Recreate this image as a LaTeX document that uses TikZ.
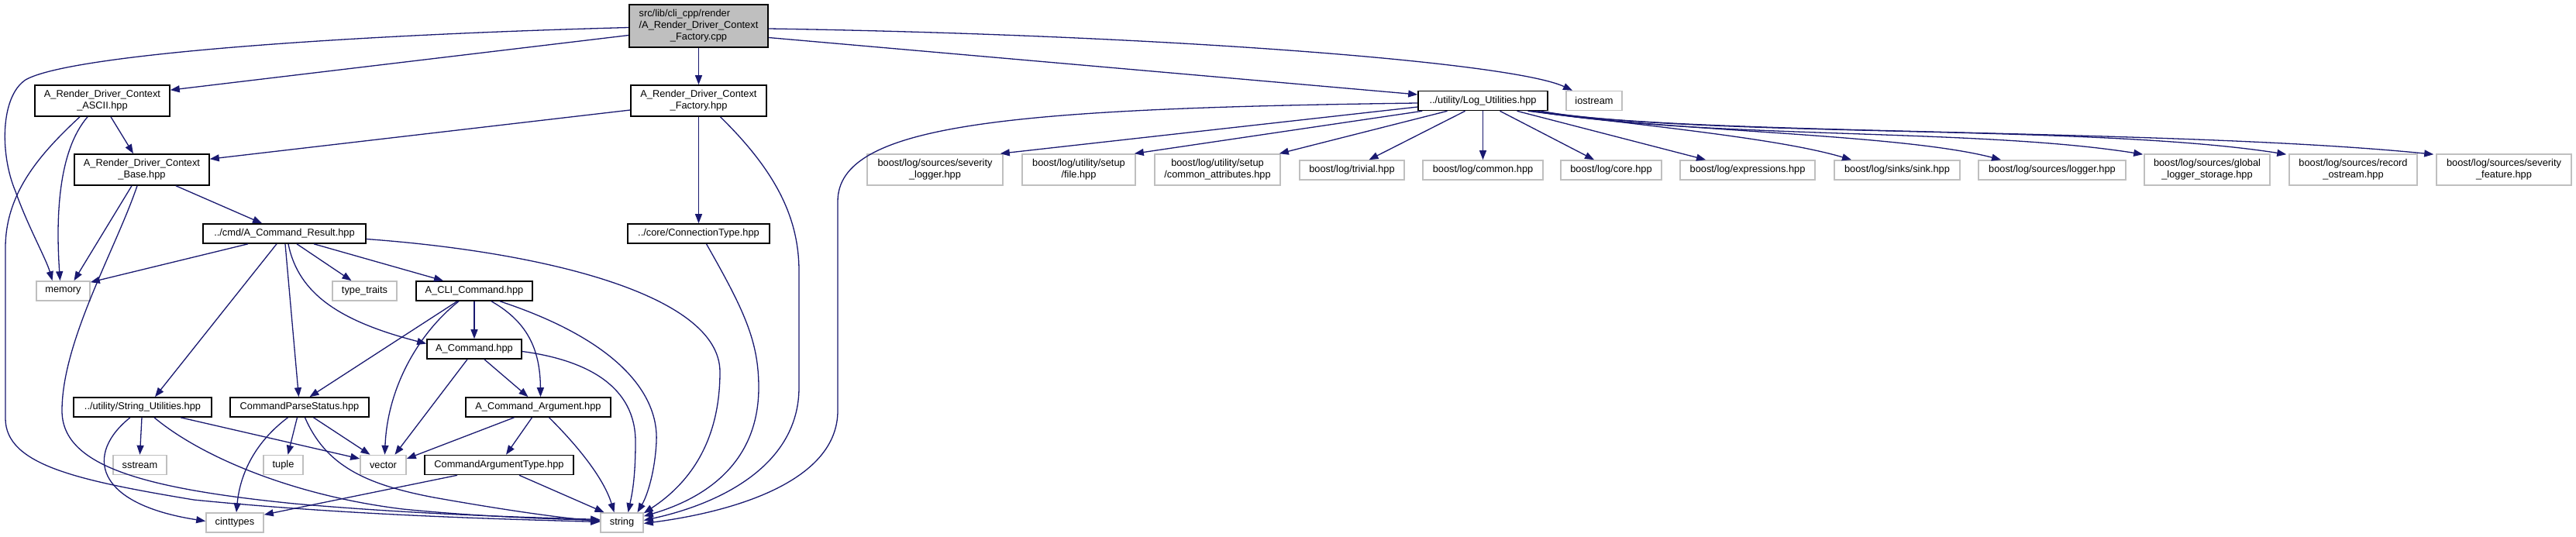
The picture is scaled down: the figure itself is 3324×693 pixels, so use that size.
\documentclass[tikz,border=0pt]{standalone}
\usepackage{fontspec}
\setmainfont{Liberation Sans}
\usepackage{tikz}
\usetikzlibrary{arrows.meta, calc}
\definecolor{DoxyEdge}{HTML}{191970}
\definecolor{DoxyGrey}{HTML}{BFBFBF}
\definecolor{DoxyBlack}{HTML}{000000}
\definecolor{DoxyWhite}{HTML}{FFFFFF}
\tikzset{
    % Node styles - Doxygen include graph
    filebox/.style={
        rectangle,
        draw=DoxyBlack,
        fill=DoxyWhite,
        line width=1.6pt,
        minimum height=25pt,
        inner sep=0pt,
        align=center,
        font=\fontsize{12.8}{15}\selectfont
    },
    sysbox/.style={
        filebox,
        draw=DoxyGrey
    },
    rootbox/.style={
        filebox,
        fill=DoxyGrey,
        minimum height=55pt
    },
    twoline/.style={
        minimum height=40pt
    },
    % Arrow styles
    inclarrow/.style={
        -{Triangle[length=12pt,width=9pt]},
        line width=1.3pt,
        DoxyEdge
    }
}

\begin{document}
\begin{tikzpicture}[x=1pt, y=-1pt]
    \useasboundingbox (0,0) rectangle (3324,693);

    % Root file
    \node[rootbox, minimum width=179pt] (root) at (901.5,33.5) {\begin{tabular}{@{}l@{}}src/lib/cli\_cpp/render\\/A\_Render\_Driver\_Context\\\multicolumn{1}{@{}c@{}}{\_Factory.cpp}\end{tabular}};

    % Render driver headers
    \node[filebox, twoline, minimum width=174pt] (ascii) at (132,130) {A\_Render\_Driver\_Context\\\_ASCII.hpp};
    \node[filebox, twoline, minimum width=175pt] (facth) at (901.5,130) {A\_Render\_Driver\_Context\\\_Factory.hpp};
    \node[filebox, twoline, minimum width=174pt] (base) at (183,219) {A\_Render\_Driver\_Context\\\_Base.hpp};
    \node[filebox, minimum width=210pt] (cmdres) at (367,301.5) {../cmd/A\_Command\_Result.hpp};
    \node[filebox, minimum width=183pt] (conn) at (901.5,301.5) {../core/ConnectionType.hpp};

    % Command headers
    \node[sysbox, minimum width=69pt] (memory) at (81.5,375.5) {memory};
    \node[sysbox, minimum width=83pt] (typetr) at (470.5,375.5) {type\_traits};
    \node[filebox, minimum width=150pt] (clicmd) at (612,375.5) {A\_CLI\_Command.hpp};
    \node[filebox, minimum width=122pt] (acmd) at (612,450.5) {A\_Command.hpp};
    \node[filebox, minimum width=178pt] (strutil) at (184,525.5) {../utility/String\_Utilities.hpp};
    \node[filebox, minimum width=179pt] (cps) at (386.5,525.5) {CommandParseStatus.hpp};
    \node[filebox, minimum width=187pt] (cmdarg) at (694.5,525.5) {A\_Command\_Argument.hpp};
    \node[sysbox, minimum width=69pt] (sstream) at (180.5,600) {sstream};
    \node[sysbox, minimum width=51pt] (tuple) at (365.5,600) {tuple};
    \node[sysbox, minimum width=59pt] (vector) at (494.5,600) {vector};
    \node[filebox, minimum width=192pt] (argtype) at (644,600) {CommandArgumentType.hpp};
    \node[sysbox, minimum width=74pt] (cinttypes) at (303,674.5) {cinttypes};
    \node[sysbox, minimum width=55pt] (string) at (802.5,674.5) {string};

    % Logging headers
    \node[filebox, minimum width=167pt] (logutil) at (1913.5,130) {../utility/Log\_Utilities.hpp};
    \node[sysbox, minimum width=72pt] (iostream) at (2057,130) {iostream};
    \node[sysbox, twoline, minimum width=175pt] (sevlog) at (1206.5,219) {boost/log/sources/severity\\\_logger.hpp};
    \node[sysbox, twoline, minimum width=146pt] (setupfile) at (1392,219) {boost/log/utility/setup\\/file.hpp};
    \node[sysbox, twoline, minimum width=162pt] (commattr) at (1571,219) {boost/log/utility/setup\\/common\_attributes.hpp};
    \node[sysbox, minimum width=135pt] (trivial) at (1744.5,219.5) {boost/log/trivial.hpp};
    \node[sysbox, minimum width=155pt] (common) at (1913.5,219.5) {boost/log/common.hpp};
    \node[sysbox, minimum width=130pt] (core) at (2079,219.5) {boost/log/core.hpp};
    \node[sysbox, minimum width=174pt] (express) at (2255,219.5) {boost/log/expressions.hpp};
    \node[sysbox, minimum width=162pt] (sink) at (2448,219.5) {boost/log/sinks/sink.hpp};
    \node[sysbox, minimum width=190pt] (logger) at (2648,219.5) {boost/log/sources/logger.hpp};
    \node[sysbox, twoline, minimum width=162pt] (global) at (2848,219) {boost/log/sources/global\\\_logger\_storage.hpp};
    \node[sysbox, twoline, minimum width=165pt] (record) at (3036.5,219) {boost/log/sources/record\\\_ostream.hpp};
    \node[sysbox, twoline, minimum width=174pt] (sevfeat) at (3231,219) {boost/log/sources/severity\\\_feature.hpp};

    % Arrows from the root
    \draw[inclarrow] ($(root.west)+(0,12)$) -- ($(ascii.north east)+(0,7)$);
    \draw[inclarrow] (root.south) -- (facth.north);
    \draw[inclarrow] ($(root.west)+(0,2)$) .. controls (450,45) and (90,70) .. (33,103) .. controls (0,125) and (0,200) .. (20,247) .. controls (35,290) and (60,335) .. ($(memory.north)+(-14,0)$);
    \draw[inclarrow] ($(root.east)+(0,15)$) -- ($(logutil.west)+(0,-8)$);
    \draw[inclarrow] ($(root.east)+(0,3.5)$) .. controls (1500,45) and (1950,80) .. ($(iostream.north)+(-28,0)$);

    % Arrows from the factory header
    \draw[inclarrow] ($(facth.west)+(0,12)$) -- ($(base.north east)+(0,7)$);
    \draw[inclarrow] (facth.south) -- (conn.north);
    \draw[inclarrow] ($(facth.south)+(28,0)$) .. controls (1000,220) and (1031,280) .. (1031,350) -- (1031,500) .. controls (1031,600) and (930,650) .. ($(string.east)+(0,-3)$);
    \draw[inclarrow] ($(conn.south)+(10,0)$) .. controls (960,400) and (979,440) .. (979,500) .. controls (979,590) and (920,640) .. ($(string.north east)+(0,5)$);

    % Arrows from the ASCII and base headers
    \draw[inclarrow] ($(ascii.south)+(11,0)$) -- ($(base.north)+(-11,0)$);
    \draw[inclarrow] ($(ascii.south)+(-19,0)$) .. controls (75,195) and (72,280) .. ($(memory.north)+(-4,0)$);
    \draw[inclarrow] ($(ascii.south)+(-29,0)$) .. controls (50,200) and (7,250) .. (7,320) -- (7,540) .. controls (7,600) and (100,620) .. (250,645) .. controls (450,665) and (650,670) .. ($(string.west)+(0,-1)$);
    \draw[inclarrow] ($(base.south)+(44,0)$) -- ($(cmdres.north)+(-29,0)$);
    \draw[inclarrow] ($(base.south)+(-13,0)$) -- ($(memory.north)+(14,0)$);
    \draw[inclarrow] ($(base.south)+(-6,0)$) .. controls (150,320) and (80,440) .. (80,530) .. controls (80,600) and (180,630) .. (380,650) .. controls (550,665) and (700,668) .. ($(string.west)+(0,-4)$);

    % Arrows from the command result header
    \draw[inclarrow] ($(cmdres.south)+(-47,0)$) -- ($(memory.north east)+(0,2)$);
    \draw[inclarrow] ($(cmdres.south)+(-10,0)$) -- ($(strutil.north)+(16,0)$);
    \draw[inclarrow] ($(cmdres.south)+(1,0)$) -- ($(cps.north)+(-1,0)$);
    \draw[inclarrow] ($(cmdres.south)+(5,0)$) .. controls (385,380) and (440,415) .. ($(acmd.west)+(0,-7)$);
    \draw[inclarrow] ($(cmdres.south)+(16,0)$) -- ($(typetr.north)+(-17,0)$);
    \draw[inclarrow] ($(cmdres.south)+(38,0)$) -- ($(clicmd.north)+(-40,0)$);
    \draw[inclarrow] ($(cmdres.east)+(0,7)$) .. controls (700,325) and (929,380) .. (929,480) .. controls (929,580) and (880,630) .. ($(string.north east)+(0,1)$);

    % Arrows from the command headers
    \draw[inclarrow] (clicmd.south) -- (acmd.north);
    \draw[inclarrow] ($(clicmd.south)+(-22,0)$) -- ($(cps.north)+(13,0)$);
    \draw[inclarrow] ($(clicmd.south)+(-20,0)$) .. controls (540,430) and (500,500) .. ($(vector.north)+(2,0)$);
    \draw[inclarrow] ($(clicmd.south)+(22,0)$) .. controls (680,415) and (697,450) .. ($(cmdarg.north)+(3,0)$);
    \draw[inclarrow] ($(clicmd.south)+(33,0)$) .. controls (800,440) and (850,510) .. (847,570) .. controls (845,610) and (835,640) .. ($(string.north)+(20,0)$);
    \draw[inclarrow] ($(acmd.south)+(-9,0)$) -- ($(vector.north)+(15,0)$);
    \draw[inclarrow] ($(acmd.south)+(13,0)$) -- ($(cmdarg.north)+(-13,0)$);
    \draw[inclarrow] ($(acmd.east)+(0,3)$) .. controls (760,465) and (820,500) .. (820,570) .. controls (820,620) and (815,640) .. ($(string.north)+(8,0)$);
    \draw[inclarrow] ($(cps.south)+(18,0)$) -- ($(vector.north)+(-17,0)$);
    \draw[inclarrow] ($(cps.south)+(-3,0)$) -- ($(tuple.north)+(6,0)$);
    \draw[inclarrow] ($(cps.south)+(-15,0)$) .. controls (330,570) and (310,610) .. ($(cinttypes.north)+(2,0)$);
    \draw[inclarrow] ($(cps.south)+(7,0)$) .. controls (420,600) and (470,625) .. (560,642) .. controls (650,658) and (720,668) .. ($(string.west)+(0,-2)$);
    \draw[inclarrow] ($(strutil.south)+(-1,0)$) -- (sstream.north);
    \draw[inclarrow] ($(strutil.south)+(-16,0)$) .. controls (110,585) and (120,650) .. ($(cinttypes.west)+(0,-2)$);
    \draw[inclarrow] ($(strutil.south)+(15,0)$) .. controls (260,590) and (380,640) .. (520,657) .. controls (620,667) and (720,670) .. ($(string.west)+(0,-3)$);
    \draw[inclarrow] ($(strutil.south)+(49,0)$) -- ($(vector.west)+(0,-8)$);
    \draw[inclarrow] ($(cmdarg.south)+(-31,0)$) -- ($(vector.east)+(0,-8)$);
    \draw[inclarrow] ($(cmdarg.south)+(-8,0)$) -- ($(argtype.north)+(9,0)$);
    \draw[inclarrow] ($(cmdarg.south)+(14,0)$) .. controls (750,580) and (780,620) .. ($(string.north)+(-10,0)$);
    \draw[inclarrow] ($(argtype.south)+(-54,0)$) -- ($(cinttypes.north east)+(0,3)$);
    \draw[inclarrow] ($(argtype.south)+(26,0)$) -- ($(string.north)+(-23,0)$);

    % Arrows from the logging header
    \draw[inclarrow] ($(logutil.west)+(0,3)$) .. controls (1300,140) and (1081,160) .. (1081,260) -- (1081,530) .. controls (1081,620) and (950,660) .. ($(string.east)+(0,1)$);
    \draw[inclarrow] ($(logutil.west)+(0,8)$) -- ($(sevlog.north east)+(-4,0)$);
    \draw[inclarrow] ($(logutil.south west)+(6,0)$) -- ($(setupfile.north east)+(-2,0)$);
    \draw[inclarrow] ($(logutil.south)+(-46,0)$) -- ($(commattr.north east)+(-2,0)$);
    \draw[inclarrow] ($(logutil.south)+(-23,0)$) -- ($(trivial.north)+(22,0)$);
    \draw[inclarrow] (logutil.south) -- (common.north);
    \draw[inclarrow] ($(logutil.south)+(22,0)$) -- ($(core.north)+(-22,0)$);
    \draw[inclarrow] ($(logutil.south)+(44,0)$) -- ($(express.north)+(-54,0)$);
    \draw[inclarrow] ($(logutil.south)+(58,0)$) .. controls (2150,165) and (2300,180) .. ($(sink.north)+(-59,0)$);
    \draw[inclarrow] ($(logutil.south)+(62,0)$) .. controls (2150,170) and (2450,172) .. ($(logger.north)+(-66,0)$);
    \draw[inclarrow] ($(logutil.south)+(65,0)$) .. controls (2200,180) and (2550,165) .. ($(global.north west)+(-1,1)$);
    \draw[inclarrow] ($(logutil.south)+(70,0)$) .. controls (2200,178) and (2700,160) .. ($(record.north west)+(-3,1)$);
    \draw[inclarrow] ($(logutil.south)+(75,0)$) .. controls (2150,175) and (2800,165) .. ($(sevfeat.north west)+(-3,1)$);
\end{tikzpicture}
\end{document}
